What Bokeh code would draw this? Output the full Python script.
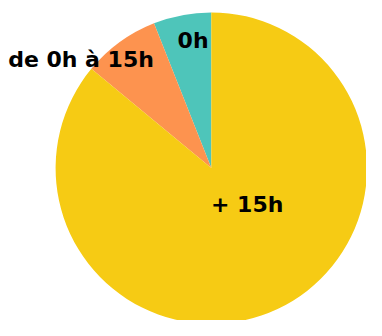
import math
from bokeh.plotting import figure
from bokeh.models import Range1d, ColumnDataSource
from bokeh.core.properties import value
from bokeh.embed import file_html
from bokeh.resources import INLINE

categories = ["0h", "de 0h à 15h", "+ 15h"]
shares = [6, 8, 86]
colors = ["#4EC5BA", "#FD934F", "#F6CB14"]

W, H = 366, 320
cx, cy, r = 210.8, 152.4, 155.7

p = figure(width=W, height=H, output_backend="svg", toolbar_location=None,
           x_range=Range1d(0, W), y_range=Range1d(0, H))
p.axis.visible = False
p.grid.visible = False
p.outline_line_color = None
p.min_border = 0
p.background_fill_color = "white"
p.border_fill_color = "white"

total = sum(shares)
starts, ends = [], []
a = math.pi / 2
for s in shares:
    starts.append(a)
    a += s / total * 2 * math.pi
    ends.append(a)

src = ColumnDataSource(dict(start=starts, end=ends, color=colors, cat=categories))
p.wedge(x=cx, y=cy, radius=r, start_angle="start", end_angle="end",
        direction="anticlock", fill_color="color", line_color=None, source=src)

# label offsets from pie centre (screen units)
dx = [-18.2, -130.3, 35.9]
dy = [128.1, 109.0, -36.2]
lsrc = ColumnDataSource(dict(x=[cx + d for d in dx], y=[cy + d for d in dy], t=categories))
p.text(x="x", y="y", text="t", source=lsrc, text_font=value("DejaVu Sans"),
       text_font_style="bold", text_font_size="22px", text_color="black",
       text_align="center", text_baseline="middle")

open("out.html", "w").write(file_html(p, INLINE))
